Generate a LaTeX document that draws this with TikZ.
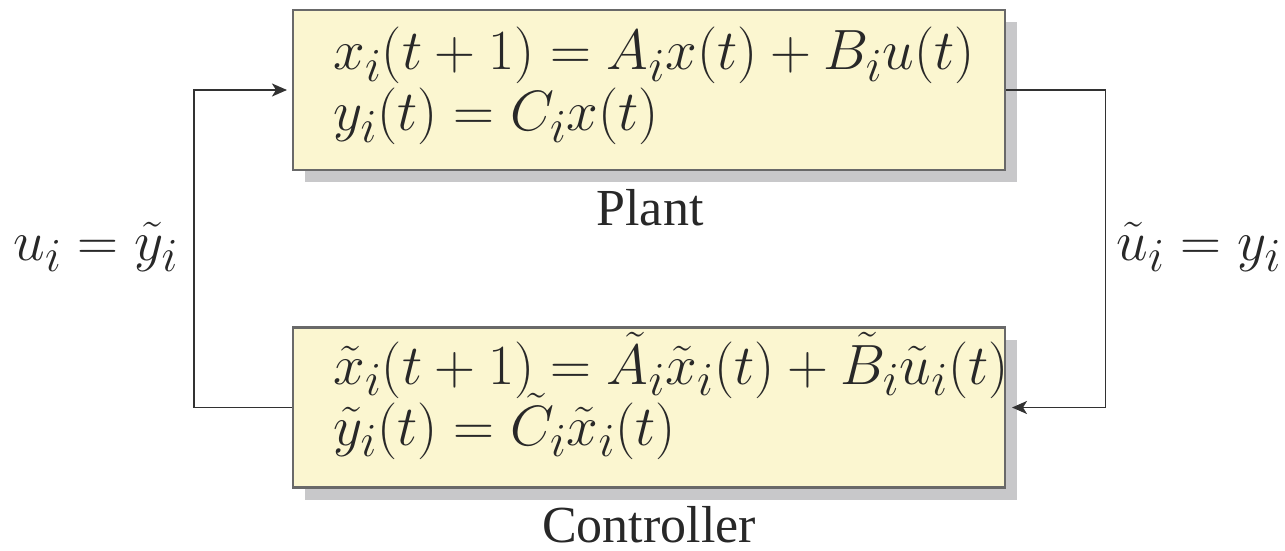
\documentclass[tikz,border=0pt]{standalone}
\usepackage[no-math]{fontspec}
\usepackage{graphicx}
\newfontfamily\capfont{Liberation Serif}
\usetikzlibrary{arrows.meta,shadows}
\definecolor{boxfill}{RGB}{251,246,208}
\definecolor{boxline}{RGB}{105,105,105}
\definecolor{shadowgray}{RGB}{200,200,202}
\definecolor{wire}{RGB}{50,50,50}
\definecolor{txt}{RGB}{40,40,40}
\newcommand{\eqbigx}[1]{\scalebox{1.1415}{\Huge$#1$}}
\begin{document}
\begin{tikzpicture}[x=0.5pt,y=-0.5pt,
  sysbox/.style={draw=boxline,line width=1.4pt,fill=boxfill,minimum width=356pt,minimum height=80pt,inner sep=0pt,
    drop shadow={shadow xshift=6pt,shadow yshift=-6pt,fill=shadowgray,opacity=1}},
  eqs/.style={anchor=base west,inner sep=0pt,text=txt},
  lbl/.style={anchor=base,inner sep=0pt,text=txt},
  captxt/.style={anchor=base,inner sep=0pt,text=txt,font=\capfont\fontsize{26}{30}\selectfont},
  wirel/.style={draw=wire,line width=0.9pt,-{Stealth[length=7.5pt,width=6.5pt,inset=2pt]}}]
\useasboundingbox (0,0) rectangle (1285,551);
\node[sysbox] (plant) at (649,90) {};
\node[sysbox] (ctrl) at (649,407.5) {};
\node[eqs] (peqa) at (333,70) {\eqbigx{x_i(t+1) = A_i x(t) + B_i u(t)}};
\node[eqs] (peqb) at (333,131) {\eqbigx{y_i(t) = C_i x(t)}};
\node[eqs] (ceqa) at (333,384) {\eqbigx{\tilde{x}_i(t+1) = \tilde{A}_i \tilde{x}_i(t) + \tilde{B}_i \tilde{u}_i(t)}};
\node[eqs] (ceqb) at (333,445) {\eqbigx{\tilde{y}_i(t) = \tilde{C}_i \tilde{x}_i(t)}};
\node[captxt] (pl) at (650,225) {Plant};
\node[captxt] (cl) at (649,542) {Controller};
\node[lbl] (ul) at (96,260) {\eqbigx{u_i = \tilde{y}_i}};
\node[lbl] (yl) at (1199,260) {\eqbigx{\tilde{u}_i = y_i}};
\draw[wirel,shorten >=2.3pt] (ctrl.west) -- ++(-98,0) |- (plant.west);
\draw[wirel,shorten >=2.8pt] (plant.east) -- ++(99,0) |- (ctrl.east);
\end{tikzpicture}
\end{document}
